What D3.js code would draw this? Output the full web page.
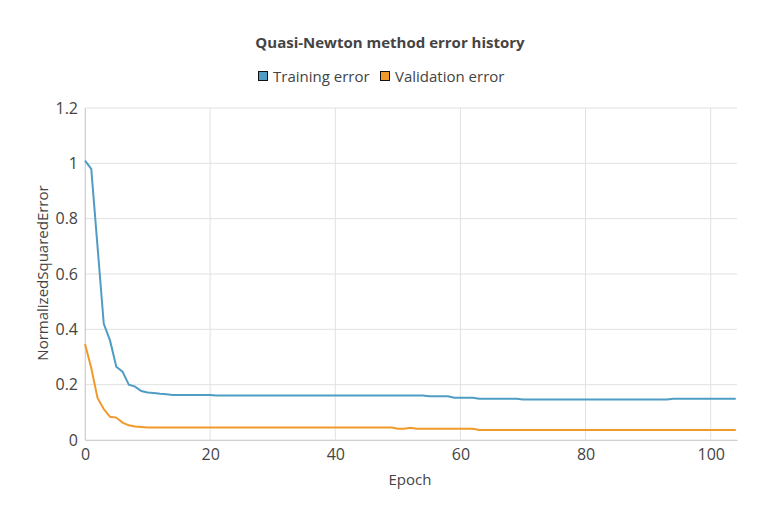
<!DOCTYPE html>
<html>
<head>
<meta charset="utf-8">
<script src="https://cdn.jsdelivr.net/npm/d3@7"></script>
<style>
  body { margin: 0; background: #ffffff; }
  text { font-family: "Open Sans", "DejaVu Sans", sans-serif; fill: #444444; }
</style>
</head>
<body>
<script>
width = 780
height = 520
margin = {top: 108, right: 43, bottom: 80, left: 85}

// error values per epoch
training_error = [
    1.01, 0.98, 0.70, 0.42, 0.36, 0.265, 0.247, 0.200, 0.193, 0.177,
    0.172, 0.170, 0.167, 0.165, 0.163, 0.163, 0.163, 0.163, 0.163, 0.163,
    0.163, 0.161, 0.161, 0.161, 0.161, 0.161, 0.161, 0.161, 0.161, 0.161,
    0.161, 0.161, 0.161, 0.161, 0.161, 0.161, 0.161, 0.161, 0.161, 0.161,
    0.161, 0.161, 0.161, 0.161, 0.161, 0.161, 0.161, 0.161, 0.161, 0.161,
    0.161, 0.161, 0.161, 0.161, 0.161, 0.158, 0.158, 0.158, 0.158, 0.153,
    0.153, 0.153, 0.153, 0.149, 0.149, 0.149, 0.149, 0.149, 0.149, 0.149,
    0.146, 0.146, 0.146, 0.146, 0.146, 0.146, 0.146, 0.146, 0.146, 0.146,
    0.146, 0.146, 0.146, 0.146, 0.146, 0.146, 0.146, 0.146, 0.146, 0.146,
    0.146, 0.146, 0.146, 0.146, 0.149, 0.149, 0.149, 0.149, 0.149, 0.149,
    0.149, 0.149, 0.149, 0.149, 0.149
]
validation_error = [
    0.347, 0.26, 0.152, 0.112, 0.084, 0.081, 0.063, 0.053, 0.049, 0.047,
    0.045, 0.045, 0.045, 0.045, 0.045, 0.045, 0.045, 0.045, 0.045, 0.045,
    0.045, 0.045, 0.045, 0.045, 0.045, 0.045, 0.045, 0.045, 0.045, 0.045,
    0.045, 0.045, 0.045, 0.045, 0.045, 0.045, 0.045, 0.045, 0.045, 0.045,
    0.045, 0.045, 0.045, 0.045, 0.045, 0.045, 0.045, 0.045, 0.045, 0.045,
    0.041, 0.041, 0.044, 0.041, 0.041, 0.041, 0.041, 0.041, 0.041, 0.041,
    0.041, 0.041, 0.041, 0.036, 0.036, 0.036, 0.036, 0.036, 0.036, 0.036,
    0.036, 0.036, 0.036, 0.036, 0.036, 0.036, 0.036, 0.036, 0.036, 0.036,
    0.036, 0.036, 0.036, 0.036, 0.036, 0.036, 0.036, 0.036, 0.036, 0.036,
    0.036, 0.036, 0.036, 0.036, 0.036, 0.036, 0.036, 0.036, 0.036, 0.036,
    0.036, 0.036, 0.036, 0.036, 0.036
]
epochs = d3.range(training_error.length)

x_ticks = [0, 20, 40, 60, 80, 100]
y_ticks = [0, 0.2, 0.4, 0.6, 0.8, 1, 1.2]

series_names = ["Training error", "Validation error"]
series_colors = ["#4f9dc4", "#f1992b"]

svg = d3.select("body")
    .append("svg")
    .attr("width", width)
    .attr("height", height)

xScale = d3.scaleLinear()
    .domain([0, 104.2])
    .range([margin.left, width - margin.right])
yScale = d3.scaleLinear()
    .domain([0, 1.2])
    .range([height - margin.bottom, margin.top])

// grid
svg.append("g")
    .selectAll("line")
    .data(x_ticks)
    .enter()
    .append("line")
    .attr("x1", d => xScale(d))
    .attr("x2", d => xScale(d))
    .attr("y1", margin.top)
    .attr("y2", height - margin.bottom)
    .attr("stroke", "#e1e1e1")
    .attr("stroke-width", 1)
svg.append("g")
    .selectAll("line")
    .data(y_ticks)
    .enter()
    .append("line")
    .attr("x1", margin.left)
    .attr("x2", width - margin.right)
    .attr("y1", d => yScale(d))
    .attr("y2", d => yScale(d))
    .attr("stroke", "#e1e1e1")
    .attr("stroke-width", 1)

// axes (labels only, domain lines drawn as grid)
xAxis = svg.append("g")
    .attr("transform", "translate(0," + (height - margin.bottom) + ")")
    .call(d3.axisBottom(xScale).tickValues(x_ticks).tickSize(0).tickPadding(9))
xAxis.select(".domain").attr("stroke", "#d0d0d0")
xAxis.selectAll("text").style("font-size", "16px").attr("fill", "#444")

yAxis = svg.append("g")
    .attr("transform", "translate(" + margin.left + ",0)")
    .call(d3.axisLeft(yScale).tickValues(y_ticks).tickSize(0).tickPadding(7)
        .tickFormat(d => d3.format("")(+d.toFixed(1))))
yAxis.select(".domain").attr("stroke", "#d0d0d0")
yAxis.selectAll("text").style("font-size", "16px").attr("fill", "#444")

// axis titles
svg.append("text")
    .attr("x", 410)
    .attr("y", 485)
    .attr("text-anchor", "middle")
    .style("font-size", "15px")
    .text("Epoch")
svg.append("text")
    .attr("transform", "translate(48,273) rotate(-90)")
    .attr("text-anchor", "middle")
    .style("font-size", "15px")
    .text("NormalizedSquaredError")

// lines
line = d3.line()
    .x((d, i) => xScale(epochs[i]))
    .y(d => yScale(d))

;[training_error, validation_error].forEach((values, k) => {
    svg.append("path")
        .datum(values)
        .attr("d", line)
        .attr("fill", "none")
        .attr("stroke", series_colors[k])
        .attr("stroke-width", 2)
})

// title
svg.append("text")
    .attr("x", 390)
    .attr("y", 48)
    .attr("text-anchor", "middle")
    .style("font-size", "15px")
    .style("font-weight", "bold")
    .text("Quasi-Newton method error history")

// legend
legend_x = [258, 380]
series_names.forEach((name, k) => {
    svg.append("rect")
        .attr("x", legend_x[k] + 0.5)
        .attr("y", 71.5)
        .attr("width", 9)
        .attr("height", 9)
        .attr("fill", series_colors[k])
        .attr("stroke", "#111")
        .attr("stroke-width", 1)
    svg.append("text")
        .attr("x", legend_x[k] + 15)
        .attr("y", 82)
        .style("font-size", "15px")
        .text(name)
})
</script>
</body>
</html>
